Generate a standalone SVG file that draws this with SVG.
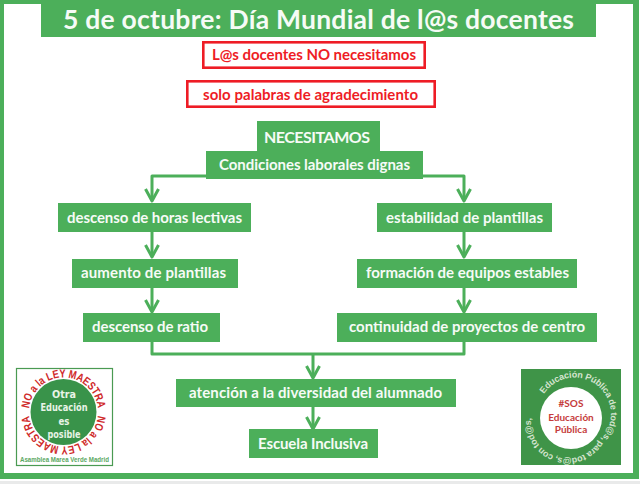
<svg xmlns="http://www.w3.org/2000/svg" width="640" height="484" viewBox="0 0 640 484">
<style>
.n{fill:#4caf5a}
.t{font-family:"Lato","Noto Sans",sans-serif;font-weight:700;font-size:15px;fill:#f6fbf6;text-anchor:middle}
.r{fill:#fff;stroke:#ee1c25;stroke-width:2.6}
.rt{font-family:"Lato","Noto Sans",sans-serif;font-weight:700;font-size:15px;fill:#ee1c25;text-anchor:middle}
.c{fill:none;stroke:#4caf5a;stroke-width:3;stroke-linejoin:round}
.ring{font-family:"Liberation Sans",sans-serif;font-weight:700;fill:#cf2a2a;font-size:11.500px;text-anchor:middle}
.in{font-family:"Liberation Sans Narrow","DejaVu Sans Condensed",sans-serif;font-weight:700;fill:#e8f3e6;font-size:11px;text-anchor:middle}
.sos{font-family:"Lato",sans-serif;font-weight:700;fill:#c53b3b;font-size:10px;text-anchor:middle}
</style>
<rect width="640" height="484" fill="#fff"/>
<rect x="0" y="481" width="640" height="3" fill="#e9eaea"/>
<g id="frame"><rect x="0" y="0" width="639" height="4" class="n"/><rect x="0" y="0" width="4" height="479" class="n"/><rect x="633" y="0" width="6" height="479" class="n"/><rect x="0" y="473" width="639" height="6" class="n"/></g>
<g id="title"><rect x="41" y="0" width="555" height="37" class="n"/><text class="t" x="318.500" y="29" style="font-size:26.500px" textLength="511">5 de octubre: Día Mundial de l@s docentes</text></g>
<g id="connectors">
<path class="c" d="M207 176H152V199M423 176H464V199M152 232V255M464 232V255M152 288V310M464 288V310M152 342V354H464V342M313 354V376M313 407V427"/>
<path class="c" d="M145.500 189L152 201L158.500 189M457.500 189L464 201L470.500 189M145.500 245L152 257L158.500 245M457.500 245L464 257L470.500 245M145.500 300L152 312L158.500 300M457.500 300L464 312L470.500 300M306.500 366L313 378L319.500 366M306.500 417L313 429L319.500 417"/>
</g>
<g id="no1"><rect class="r" x="203.300" y="42.300" width="221.400" height="25.400"/><text class="rt" x="314" y="60" textLength="204">L@s docentes NO necesitamos</text></g>
<g id="no2"><rect class="r" x="187.300" y="81.300" width="247.400" height="25.400"/><text class="rt" x="310.500" y="100" textLength="215">solo palabras de agradecimiento</text></g>
<g id="necesitamos"><rect class="n" x="257" y="121" width="123" height="30"/><text class="t" x="317" y="143" style="font-size:16px" textLength="106">NECESITAMOS</text></g>
<g id="condiciones"><rect class="n" x="206" y="151" width="217" height="28"/><text class="t" x="314.500" y="170" textLength="191">Condiciones laborales dignas</text></g>
<g id="descenso-horas"><rect class="n" x="58" y="203" width="193" height="29"/><text class="t" x="154.500" y="223" textLength="175">descenso de horas lectivas</text></g>
<g id="aumento"><rect class="n" x="72" y="259" width="166" height="29"/><text class="t" x="153.500" y="278" textLength="145">aumento de plantillas</text></g>
<g id="ratio"><rect class="n" x="83" y="313" width="137" height="29"/><text class="t" x="150" y="332" textLength="116">descenso de ratio</text></g>
<g id="estabilidad"><rect class="n" x="377" y="203" width="175" height="29"/><text class="t" x="464.500" y="223" textLength="157">estabilidad de plantillas</text></g>
<g id="formacion"><rect class="n" x="357" y="259" width="220" height="29"/><text class="t" x="467.500" y="278" textLength="203">formación de equipos estables</text></g>
<g id="continuidad"><rect class="n" x="337" y="313" width="260" height="29"/><text class="t" x="467" y="332" textLength="236">continuidad de proyectos de centro</text></g>
<g id="atencion"><rect class="n" x="176" y="379" width="280" height="28"/><text class="t" x="315.500" y="398" textLength="253">atención a la diversidad del alumnado</text></g>
<g id="escuela"><rect class="n" x="249" y="429" width="129" height="29"/><text class="t" x="313" y="449" textLength="110">Escuela Inclusiva</text></g>
<defs>
<path id="a1" d="M29 412A34.500 34.500 0 0 1 98 412"/>
<path id="a2" d="M98 412A34.500 34.500 0 0 1 29 412"/>
<path id="b1" d="M544 394A36.500 36.500 0 1 1 598 442A36.500 36.500 0 1 1 544 394"/>
</defs>
<g id="logo-left">
<rect x="16.500" y="368.500" width="96" height="97" fill="#fff" stroke="#4a9a52" stroke-width="1.200"/>
<circle cx="63.500" cy="412" r="33" fill="#39934a"/>
<text class="ring"><textPath href="#a1" startOffset="50%" textLength="101" lengthAdjust="spacingAndGlyphs">NO a la LEY MAESTRA</textPath></text>
<text class="ring"><textPath href="#a2" startOffset="50%" textLength="101" lengthAdjust="spacingAndGlyphs">NO a la LEY MAESTRA</textPath></text>
<text class="in" x="64" y="398" textLength="24" lengthAdjust="spacingAndGlyphs">Otra</text>
<text class="in" x="64" y="411" textLength="47" lengthAdjust="spacingAndGlyphs">Educación</text>
<text class="in" x="64" y="424.500" textLength="11" lengthAdjust="spacingAndGlyphs">es</text>
<text class="in" x="64" y="437.500" textLength="33" lengthAdjust="spacingAndGlyphs">posible</text>
<text x="64.500" y="462" font-family="Liberation Sans,sans-serif" font-weight="700" font-size="6.500px" fill="#5aa862" text-anchor="middle" textLength="89" lengthAdjust="spacingAndGlyphs">Asamblea Marea Verde Madrid</text>
</g>
<g id="logo-right">
<rect x="521" y="369" width="100" height="96" fill="#3f9448"/>
<circle cx="571" cy="418" r="31" fill="#fff"/>
<text font-family="Liberation Sans,sans-serif" font-weight="700" fill="#d5e4cf" font-size="9px" textLength="222"><textPath href="#b1">Educación Pública de tod@s, para tod@s, con tod@s,</textPath></text>
<text class="sos" x="571" y="407">#SOS</text><text class="sos" x="571" y="420.500">Educación</text><text class="sos" x="571" y="433">Pública</text>
</g>
</svg>
